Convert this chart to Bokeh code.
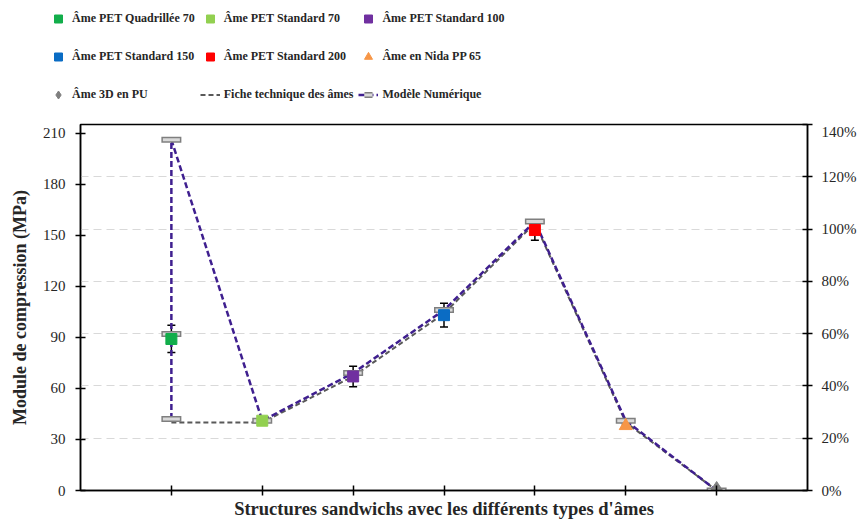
from bokeh.plotting import figure
from bokeh.layouts import column
from bokeh.models import (Range1d, LinearAxis, FixedTicker, NumeralTickFormatter, Grid,
                          Legend, LegendItem, Whisker, TeeHead, ColumnDataSource)
from bokeh.embed import file_html
from bokeh.resources import INLINE

# ---- data ----
core_names = ["Âme PET Quadrillée 70", "Âme PET Standard 70", "Âme PET Standard 100",
              "Âme PET Standard 150", "Âme PET Standard 200", "Âme en Nida PP 65",
              "Âme 3D en PU"]
core_pos = [1, 2, 3, 4, 5, 6, 7]
core_values = [89, 41, 67, 103, 153, 38, 0]
core_errors = [8, 2, 6, 7, 6, 1, 0]
core_markers = ["square", "square", "square", "square", "square", "triangle", "diamond"]
core_colors = ["#12AE4B", "#92D050", "#7030A0", "#0A6CC4", "#FF0000", "#F79646", "#7F7F7F"]
core_sizes = [11, 11, 11, 11, 11, 13, 18]

fiche_name = "Fiche technique des âmes"
fiche_x = [1, 2, 3, 4, 5, 6, 7]
fiche_y = [40, 40, 67, 104, 157, 40, 0]

model_name = "Modèle Numérique"
model_x = [1, 1, 1, 2, 3, 4, 5, 6, 7]
model_y = [42, 92, 206, 41, 69, 106, 158, 41, 0]

left_ticks = [0, 30, 60, 90, 120, 150, 180, 210]
right_ticks = [0, 0.2, 0.4, 0.6, 0.8, 1.0, 1.2, 1.4]
grid_ticks = [0.2, 0.4, 0.6, 0.8, 1.0, 1.2]

SERIF = "Liberation Serif"
TXT = "#262626"
MODEL_COLOR = "#3F1F8F"
FICHE_COLOR = "#595959"


def draw_series(fig, visible=True):
    fr = fig.line(fiche_x, fiche_y, line_color=FICHE_COLOR, line_dash="5 3", line_width=2,
                  visible=visible)
    mr = fig.line(model_x, model_y, line_color=MODEL_COLOR, line_dash="6 3", line_width=2.5,
                  visible=visible)
    m1 = fig.scatter(model_x, model_y, marker="dash", size=20, line_width=6,
                     line_color="#7F7F7F", visible=visible)
    m2 = fig.scatter(model_x, model_y, marker="dash", size=17, line_width=3,
                     line_color="#D9D9D9", visible=visible)
    return fr, mr, m1, m2


def draw_cores(fig, visible=True):
    rs = []
    for i in range(len(core_names)):
        r = fig.scatter([core_pos[i]], [core_values[i]], marker=core_markers[i],
                        size=core_sizes[i], fill_color=core_colors[i],
                        line_color=core_colors[i], visible=visible)
        rs.append(r)
    return rs


# ---------------- main chart ----------------
p = figure(width=859, height=398, output_backend="svg", toolbar_location=None,
           x_range=Range1d(0, 8), y_range=Range1d(0, 215),
           min_border_left=80, min_border_right=52, min_border_top=1, min_border_bottom=31,
           background_fill_color="white", border_fill_color="white")
p.frame_align = False
p.outline_line_color = "black"
p.outline_line_width = 1.5
p.xgrid.visible = False
p.ygrid.visible = False

p.extra_y_ranges = {"pct": Range1d(0, 1.4)}

g = Grid(dimension=1, y_range_name="pct", ticker=FixedTicker(ticks=grid_ticks),
         grid_line_color="#D9D9D9", grid_line_dash="8 5", grid_line_width=1)
p.add_layout(g)

xa = p.xaxis[0]
xa.ticker = FixedTicker(ticks=core_pos)
xa.major_label_text_font_size = "0px"
xa.major_label_text_color = None
xa.major_label_standoff = 0
xa.major_tick_in = 5
xa.major_tick_out = 5
xa.minor_tick_line_color = None
xa.axis_line_width = 1.5
xa.major_tick_line_width = 1.5
xa.axis_line_color = "black"
xa.axis_label = "Structures sandwichs avec les différents types d'âmes"
xa.axis_label_text_font = SERIF
xa.axis_label_text_font_style = "bold"
xa.axis_label_text_font_size = "18.5px"
xa.axis_label_text_color = TXT
xa.axis_label_standoff = 3

ya = p.yaxis[0]
ya.ticker = FixedTicker(ticks=left_ticks)
ya.major_tick_in = 5
ya.major_tick_out = 5
ya.minor_tick_line_color = None
ya.axis_line_width = 1.5
ya.major_tick_line_width = 1.5
ya.major_label_text_font = SERIF
ya.major_label_text_font_size = "15px"
ya.major_label_text_color = TXT
ya.major_label_standoff = 10
ya.axis_label = "Module de compression (MPa)"
ya.axis_label_text_font = SERIF
ya.axis_label_text_font_style = "bold"
ya.axis_label_text_font_size = "18px"
ya.axis_label_text_color = TXT
ya.axis_label_standoff = 10

ra = LinearAxis(y_range_name="pct", ticker=FixedTicker(ticks=right_ticks),
                formatter=NumeralTickFormatter(format="0%"))
ra.major_tick_in = 5
ra.major_tick_out = 5
ra.minor_tick_line_color = None
ra.axis_line_width = 1.5
ra.major_tick_line_width = 1.5
ra.major_label_text_font = SERIF
ra.major_label_text_font_size = "15px"
ra.major_label_text_color = TXT
ra.major_label_standoff = 9
p.add_layout(ra, "right")

draw_series(p)

err_src = ColumnDataSource(dict(
    x=core_pos,
    upper=[v + e for v, e in zip(core_values, core_errors)],
    lower=[v - e for v, e in zip(core_values, core_errors)],
))
wh = Whisker(source=err_src, base="x", upper="upper", lower="lower",
             line_color="black", line_width=1.5,
             upper_head=TeeHead(size=8, line_color="black", line_width=1.5),
             lower_head=TeeHead(size=8, line_color="black", line_width=1.5))
p.add_layout(wh)

draw_cores(p)

# ---------------- legend strip ----------------
lf = figure(width=859, height=123, output_backend="svg", toolbar_location=None,
            x_range=Range1d(0, 8), y_range=Range1d(0, 215),
            x_axis_location=None, y_axis_location=None,
            min_border_left=0, min_border_right=0, min_border_top=0, min_border_bottom=0,
            background_fill_color="white", border_fill_color="white")
lf.frame_align = False
lf.outline_line_color = None
lf.xgrid.visible = False
lf.ygrid.visible = False
l_fr, l_mr, l_m1, l_m2 = draw_series(lf, visible=False)
l_cores = draw_cores(lf, visible=False)

item_by_name = {core_names[i]: [l_cores[i]] for i in range(7)}
item_by_name[fiche_name] = [l_fr]
item_by_name[model_name] = [l_mr, l_m1, l_m2]
# legend fills column by column: three rows per column
legend_order = [core_names[0], core_names[3], core_names[6],
                core_names[1], core_names[4], fiche_name,
                core_names[2], core_names[5], model_name]
items = [LegendItem(label=n, renderers=item_by_name[n]) for n in legend_order]

leg = Legend(items=items, ncols=3, location=(48, 12),
             glyph_width=20, glyph_height=33, label_height=33, spacing=5,
             label_standoff=4, padding=0, margin=0,
             border_line_color=None, background_fill_alpha=0,
             label_text_font=SERIF, label_text_font_style="bold",
             label_text_font_size="12px", label_text_color=TXT)
lf.add_layout(leg)

open("out.html", "w").write(file_html(column(lf, p), INLINE))
